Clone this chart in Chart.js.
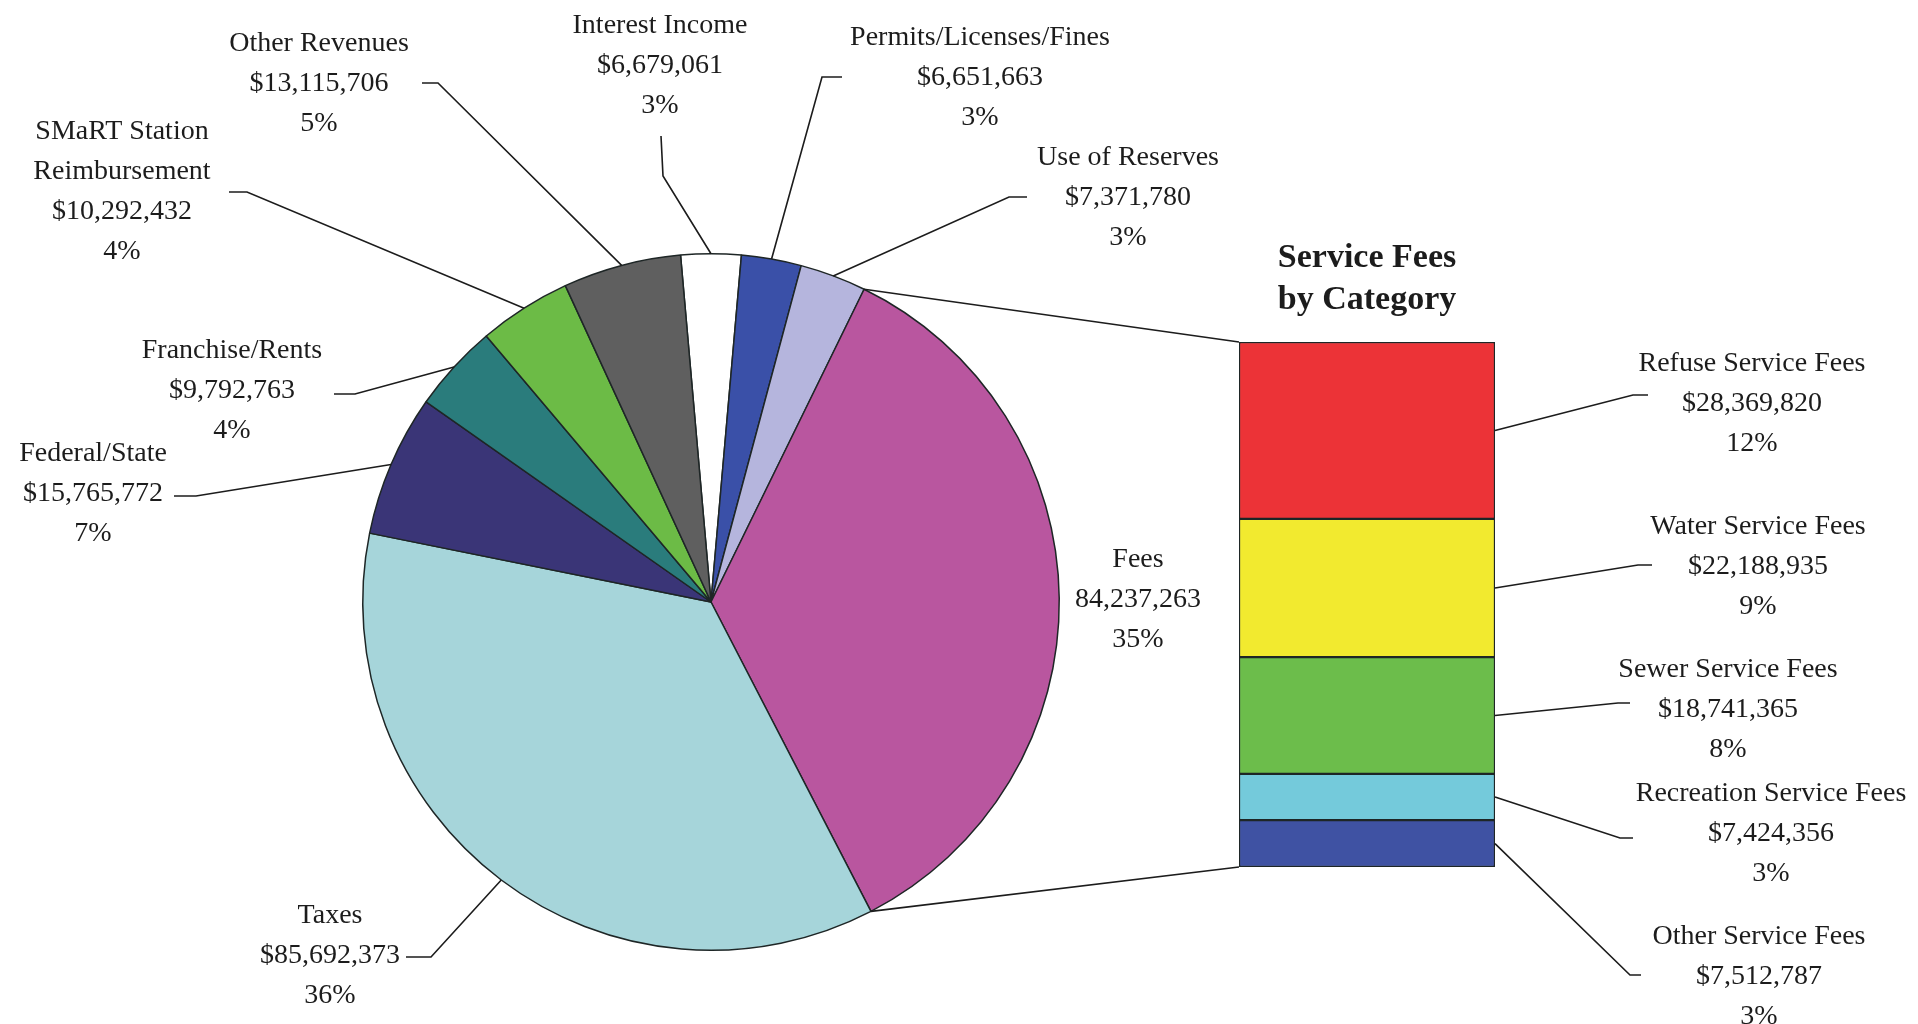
<!DOCTYPE html>
<html lang="en">
<head>
<meta charset="UTF-8">
<title>Revenues by Source</title>
<script src="https://cdn.jsdelivr.net/npm/chart.js"></script>
<style>
  body { margin: 0; background: #fff; }
  #wrap { position: relative; width: 1918px; height: 1024px; }
  #wrap canvas { position: absolute; left: 0; top: 0; }
</style>
</head>
<body>
<div id="wrap">
  <canvas id="pie" width="1918" height="1024"></canvas>
  <canvas id="bar" width="1918" height="1024"></canvas>
</div>

<script>
// revenue sources, clockwise from 12 o'clock
var sources = ['Interest Income', 'Permits/Licenses/Fines', 'Use of Reserves', 'Fees', 'Taxes',
               'Federal/State', 'Franchise/Rents', 'SMaRT Station|Reimbursement', 'Other Revenues'];
var amounts = [6679061, 6651663, 7371780, 84237263, 85692373, 15765772, 9792763, 10292432, 13115706];
var pieColors = ['#ffffff', '#3a50a8', '#b5b5dd', '#b9569f', '#a6d5da',
                 '#3a3577', '#2a7c7c', '#6cbb46', '#5f5f5f'];

// the "Fees" slice broken down, bottom of the bar first
var feeCategories = ['Other Service Fees', 'Recreation Service Fees', 'Sewer Service Fees',
                     'Water Service Fees', 'Refuse Service Fees'];
var feeAmounts = [7512787, 7424356, 18741365, 22188935, 28369820];
var feeColors = ['#3f52a3', '#74cadb', '#6cbd4b', '#f2ea2f', '#ec3337'];

// where the text blocks sit (x = centre, y = first line) and the bend of each leader line
var pieLabelPos = [
  { x: 660, y: 26,  leader: [[661, 136], [663, 176]] },
  { x: 980, y: 38,  leader: [[842, 77], [822, 77]] },
  { x: 1128, y: 158, leader: [[1027, 197], [1009, 197]] },
  { x: 1138, y: 560, leader: null },
  { x: 330, y: 916, leader: [[406, 957], [431, 957]] },
  { x: 93,  y: 454, leader: [[174, 496], [196, 496]] },
  { x: 232, y: 351, leader: [[334, 394], [355, 394]] },
  { x: 122, y: 132, leader: [[229, 192], [247, 192]] },
  { x: 319, y: 44,  leader: [[422, 83], [438, 83]] }
];
var feeLabelPos = [
  { x: 1759, y: 937, leader: [[1641, 975], [1630, 975]] },
  { x: 1771, y: 794, leader: [[1633, 838], [1620, 838]] },
  { x: 1728, y: 670, leader: [[1630, 703], [1618, 703]] },
  { x: 1758, y: 527, leader: [[1652, 565], [1638, 565]] },
  { x: 1752, y: 364, leader: [[1648, 395], [1633, 395]] }
];

var LINE_H = 40;
var TEXT_FONT = '28px "Liberation Serif"';
var INK = '#1c1c1c';

var pieTotal = amounts.reduce(function (a, b) { return a + b; }, 0);
var feeTotal = feeAmounts.reduce(function (a, b) { return a + b; }, 0);

function money(v, sign) {
  return (sign ? '$' : '') + v.toLocaleString('en-US');
}

function drawBlock(ctx, lines, x, y) {
  ctx.save();
  ctx.font = TEXT_FONT;
  ctx.fillStyle = INK;
  ctx.textAlign = 'center';
  ctx.textBaseline = 'middle';
  lines.forEach(function (t, k) { ctx.fillText(t, x, y + k * LINE_H); });
  ctx.restore();
}

function drawLeader(ctx, pts) {
  ctx.save();
  ctx.strokeStyle = INK;
  ctx.lineWidth = 1.6;
  ctx.beginPath();
  ctx.moveTo(pts[0][0], pts[0][1]);
  for (var k = 1; k < pts.length; k++) ctx.lineTo(pts[k][0], pts[k][1]);
  ctx.stroke();
  ctx.restore();
}

function arcPoint(arc, angle) {
  return [arc.x + Math.cos(angle) * arc.outerRadius, arc.y + Math.sin(angle) * arc.outerRadius];
}

var pieLabels = {
  id: 'pieLabels',
  afterDatasetsDraw: function (chart) {
    var ctx = chart.ctx;
    var meta = chart.getDatasetMeta(0);
    meta.data.forEach(function (arc, i) {
      var pos = pieLabelPos[i];
      var lines = sources[i].split('|');
      lines.push(money(amounts[i], sources[i] !== 'Fees'));
      lines.push(Math.round(amounts[i] / pieTotal * 100) + '%');
      drawBlock(ctx, lines, pos.x, pos.y);
      if (pos.leader) {
        var p = arc.getProps(['x', 'y', 'startAngle', 'endAngle', 'outerRadius'], true);
        var end = arcPoint(p, (p.startAngle + p.endAngle) / 2);
        drawLeader(ctx, pos.leader.concat([end]));
      }
    });
  }
};

var barLabels = {
  id: 'barLabels',
  afterDatasetsDraw: function (chart) {
    var ctx = chart.ctx;
    var top = null, bottom = null;
    chart.data.datasets.forEach(function (ds, i) {
      var el = chart.getDatasetMeta(i).data[0];
      var b = el.getProps(['x', 'y', 'base', 'width'], true);
      var pos = feeLabelPos[i];
      drawBlock(ctx, [feeCategories[i], money(feeAmounts[i], true),
                      Math.round(feeAmounts[i] / pieTotal * 100) + '%'], pos.x, pos.y);
      drawLeader(ctx, pos.leader.concat([[b.x + b.width / 2, (b.y + b.base) / 2]]));
      if (i === 0) bottom = [b.x - b.width / 2, b.base];
      if (i === chart.data.datasets.length - 1) top = [b.x - b.width / 2, b.y, b.x];
    });

    // title over the bar
    ctx.save();
    ctx.font = 'bold 34px "Liberation Serif"';
    ctx.fillStyle = INK;
    ctx.textAlign = 'center';
    ctx.textBaseline = 'middle';
    ctx.fillText('Service Fees', top[2], top[1] - 84);
    ctx.fillText('by Category', top[2], top[1] - 42);
    ctx.restore();

    // connectors from the Fees slice edges to the bar
    var pie = Chart.getChart('pie');
    var fees = pie.getDatasetMeta(0).data[sources.indexOf('Fees')];
    var p = fees.getProps(['x', 'y', 'startAngle', 'endAngle', 'outerRadius'], true);
    drawLeader(ctx, [arcPoint(p, p.startAngle), [top[0], top[1]]]);
    drawLeader(ctx, [arcPoint(p, p.endAngle), bottom]);
  }
};

new Chart(document.getElementById('pie'), {
  type: 'pie',
  data: {
    labels: sources,
    datasets: [{
      data: amounts,
      backgroundColor: pieColors,
      borderColor: '#1e2626',
      borderWidth: 1.5
    }]
  },
  options: {
    responsive: false,
    animation: false,
    rotation: -(amounts[0] / pieTotal * 360) / 2,
    layout: { padding: { left: 362, right: 858, top: 253, bottom: 73 } },
    plugins: { legend: { display: false }, tooltip: { enabled: false } }
  },
  plugins: [pieLabels]
});

new Chart(document.getElementById('bar'), {
  type: 'bar',
  data: {
    labels: ['Fees'],
    datasets: feeCategories.map(function (name, i) {
      return {
        label: name,
        data: [feeAmounts[i]],
        backgroundColor: feeColors[i],
        borderColor: '#1e2626',
        borderWidth: 1.5,
        borderSkipped: false,
        categoryPercentage: 1,
        barPercentage: 1
      };
    })
  },
  options: {
    responsive: false,
    animation: false,
    layout: { padding: { left: 1239, right: 423, top: 342, bottom: 157 } },
    scales: {
      x: { stacked: true, display: false },
      y: { stacked: true, display: false, min: 0, max: feeTotal }
    },
    plugins: { legend: { display: false }, tooltip: { enabled: false } }
  },
  plugins: [barLabels]
});
</script>
</body>
</html>
